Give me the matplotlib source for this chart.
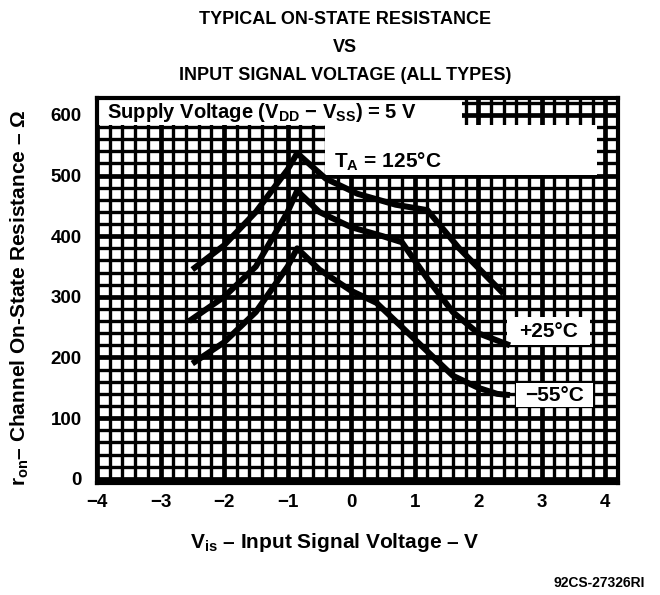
import matplotlib
matplotlib.use('Agg')
import matplotlib.pyplot as plt
import numpy as np
from matplotlib.patches import Rectangle

plt.rcParams['font.family'] = ['Liberation Sans', 'DejaVu Sans']
plt.rcParams['font.weight'] = 'bold'
plt.rcParams['mathtext.fontset'] = 'custom'
plt.rcParams['mathtext.rm'] = 'Liberation Sans:bold'
plt.rcParams['mathtext.bf'] = 'Liberation Sans:bold'
plt.rcParams['mathtext.it'] = 'Liberation Sans:bold'
plt.rcParams['mathtext.default'] = 'bf'

# curves (V_is in volts, r_on in ohms)
x_125 = [-2.5, -2.0, -1.5, -1.0, -0.85, -0.4, 0.1, 0.7, 1.2, 1.7, 2.4]
r_125 = [345, 385, 440, 510, 537, 495, 470, 452, 443, 380, 305]

x_25 = [-2.55, -2.0, -1.5, -1.0, -0.85, -0.5, 0.0, 0.5, 0.8, 1.2, 1.6, 2.0, 2.5]
r_25 = [260, 300, 350, 440, 475, 440, 415, 400, 390, 330, 275, 240, 220]

x_m55 = [-2.5, -2.0, -1.5, -1.0, -0.85, -0.5, 0.0, 0.4, 0.8, 1.2, 1.6, 2.0, 2.3, 2.5]
r_m55 = [190, 225, 275, 350, 380, 345, 310, 290, 250, 210, 170, 150, 140, 138]

x_ticks = [-4, -3, -2, -1, 0, 1, 2, 3, 4]
y_ticks = [0, 100, 200, 300, 400, 500, 600]

fig = plt.figure(figsize=(6.6, 5.95), dpi=100)
ax = fig.add_axes([97/660, 1-483/595, 521/660, 385/595])

ax.set_xlim(-4, 4.2)
ax.set_ylim(-7, 628)
ax.set_xticks(x_ticks)
ax.set_xticklabels(['\u22124', '\u22123', '\u22122', '\u22121', '0', '1', '2', '3', '4'])
ax.set_yticks(y_ticks)
ax.set_xticks(np.arange(-4, 4.21, 0.2), minor=True)
ax.set_yticks(np.arange(0, 621, 20), minor=True)
ax.tick_params(which='both', length=0, labelsize=13.5)
ax.tick_params(axis='y', pad=11)
ax.tick_params(axis='x', pad=8)
for lab in ax.get_xticklabels() + ax.get_yticklabels():
    lab.set_fontweight('bold')

ax.set_axisbelow(True)
ax.grid(which='minor', color='black', lw=2.4)
ax.grid(which='major', color='black', lw=3.4)
for s in ax.spines.values():
    s.set_linewidth(3)

# white label areas punched out of the grid
for (x0, y0, w, h) in [(0, 0.93, 0.70, 0.07), (0.4376, 0.80, 0.5224, 0.13),
                       (0.786, 0.358, 0.161, 0.073), (0.805, 0.197, 0.147, 0.063)]:
    ax.add_patch(Rectangle((x0, y0), w, h, transform=ax.transAxes,
                           facecolor='white', edgecolor='none', zorder=1.5))

for xs, rs in [(x_125, r_125), (x_25, r_25), (x_m55, r_m55)]:
    ax.plot(xs, rs, color='black', lw=4.3, solid_capstyle='butt', zorder=3)

ax.text(0.02, 0.962, 'Supply Voltage (V$_{DD}$ \u2212 V$_{SS}$) = 5 V', transform=ax.transAxes,
        fontsize=14.5, fontweight='bold', va='center', ha='left', zorder=4)
ax.text(0.455, 0.835, 'T$_{A}$ = 125\u00b0C', transform=ax.transAxes,
        fontsize=15, fontweight='bold', va='center', ha='left', zorder=4)
ax.text(0.866, 0.393, '+25\u00b0C', transform=ax.transAxes,
        fontsize=15, fontweight='bold', va='center', ha='center', zorder=4)
ax.text(0.878, 0.228, '\u221255\u00b0C', transform=ax.transAxes,
        fontsize=15, fontweight='bold', va='center', ha='center', zorder=4)

fig.text(345/660, 1-20/595, 'TYPICAL ON-STATE RESISTANCE', ha='center', va='center',
         fontsize=13, fontweight='bold')
fig.text(345/660, 1-48/595, 'VS', ha='center', va='center', fontsize=13, fontweight='bold')
fig.text(345/660, 1-75/595, 'INPUT SIGNAL VOLTAGE (ALL TYPES)', ha='center', va='center',
         fontsize=13, fontweight='bold')

fig.text(335/660, 1-543/595, 'V$_{is}$ \u2013 Input Signal Voltage \u2013 V', ha='center',
         va='center', fontsize=15, fontweight='bold')
fig.text(20/660, 1-298/595, 'r$_{on}$\u2013 Channel On-State Resistance \u2013 \u03a9', ha='center',
         va='center', rotation=90, fontsize=15, fontweight='bold')
fig.text(645/660, 1-583/595, '92CS-27326RI', ha='right', va='center', fontsize=10,
         fontweight='bold')

fig.savefig('out.png', dpi=100, facecolor='white')
